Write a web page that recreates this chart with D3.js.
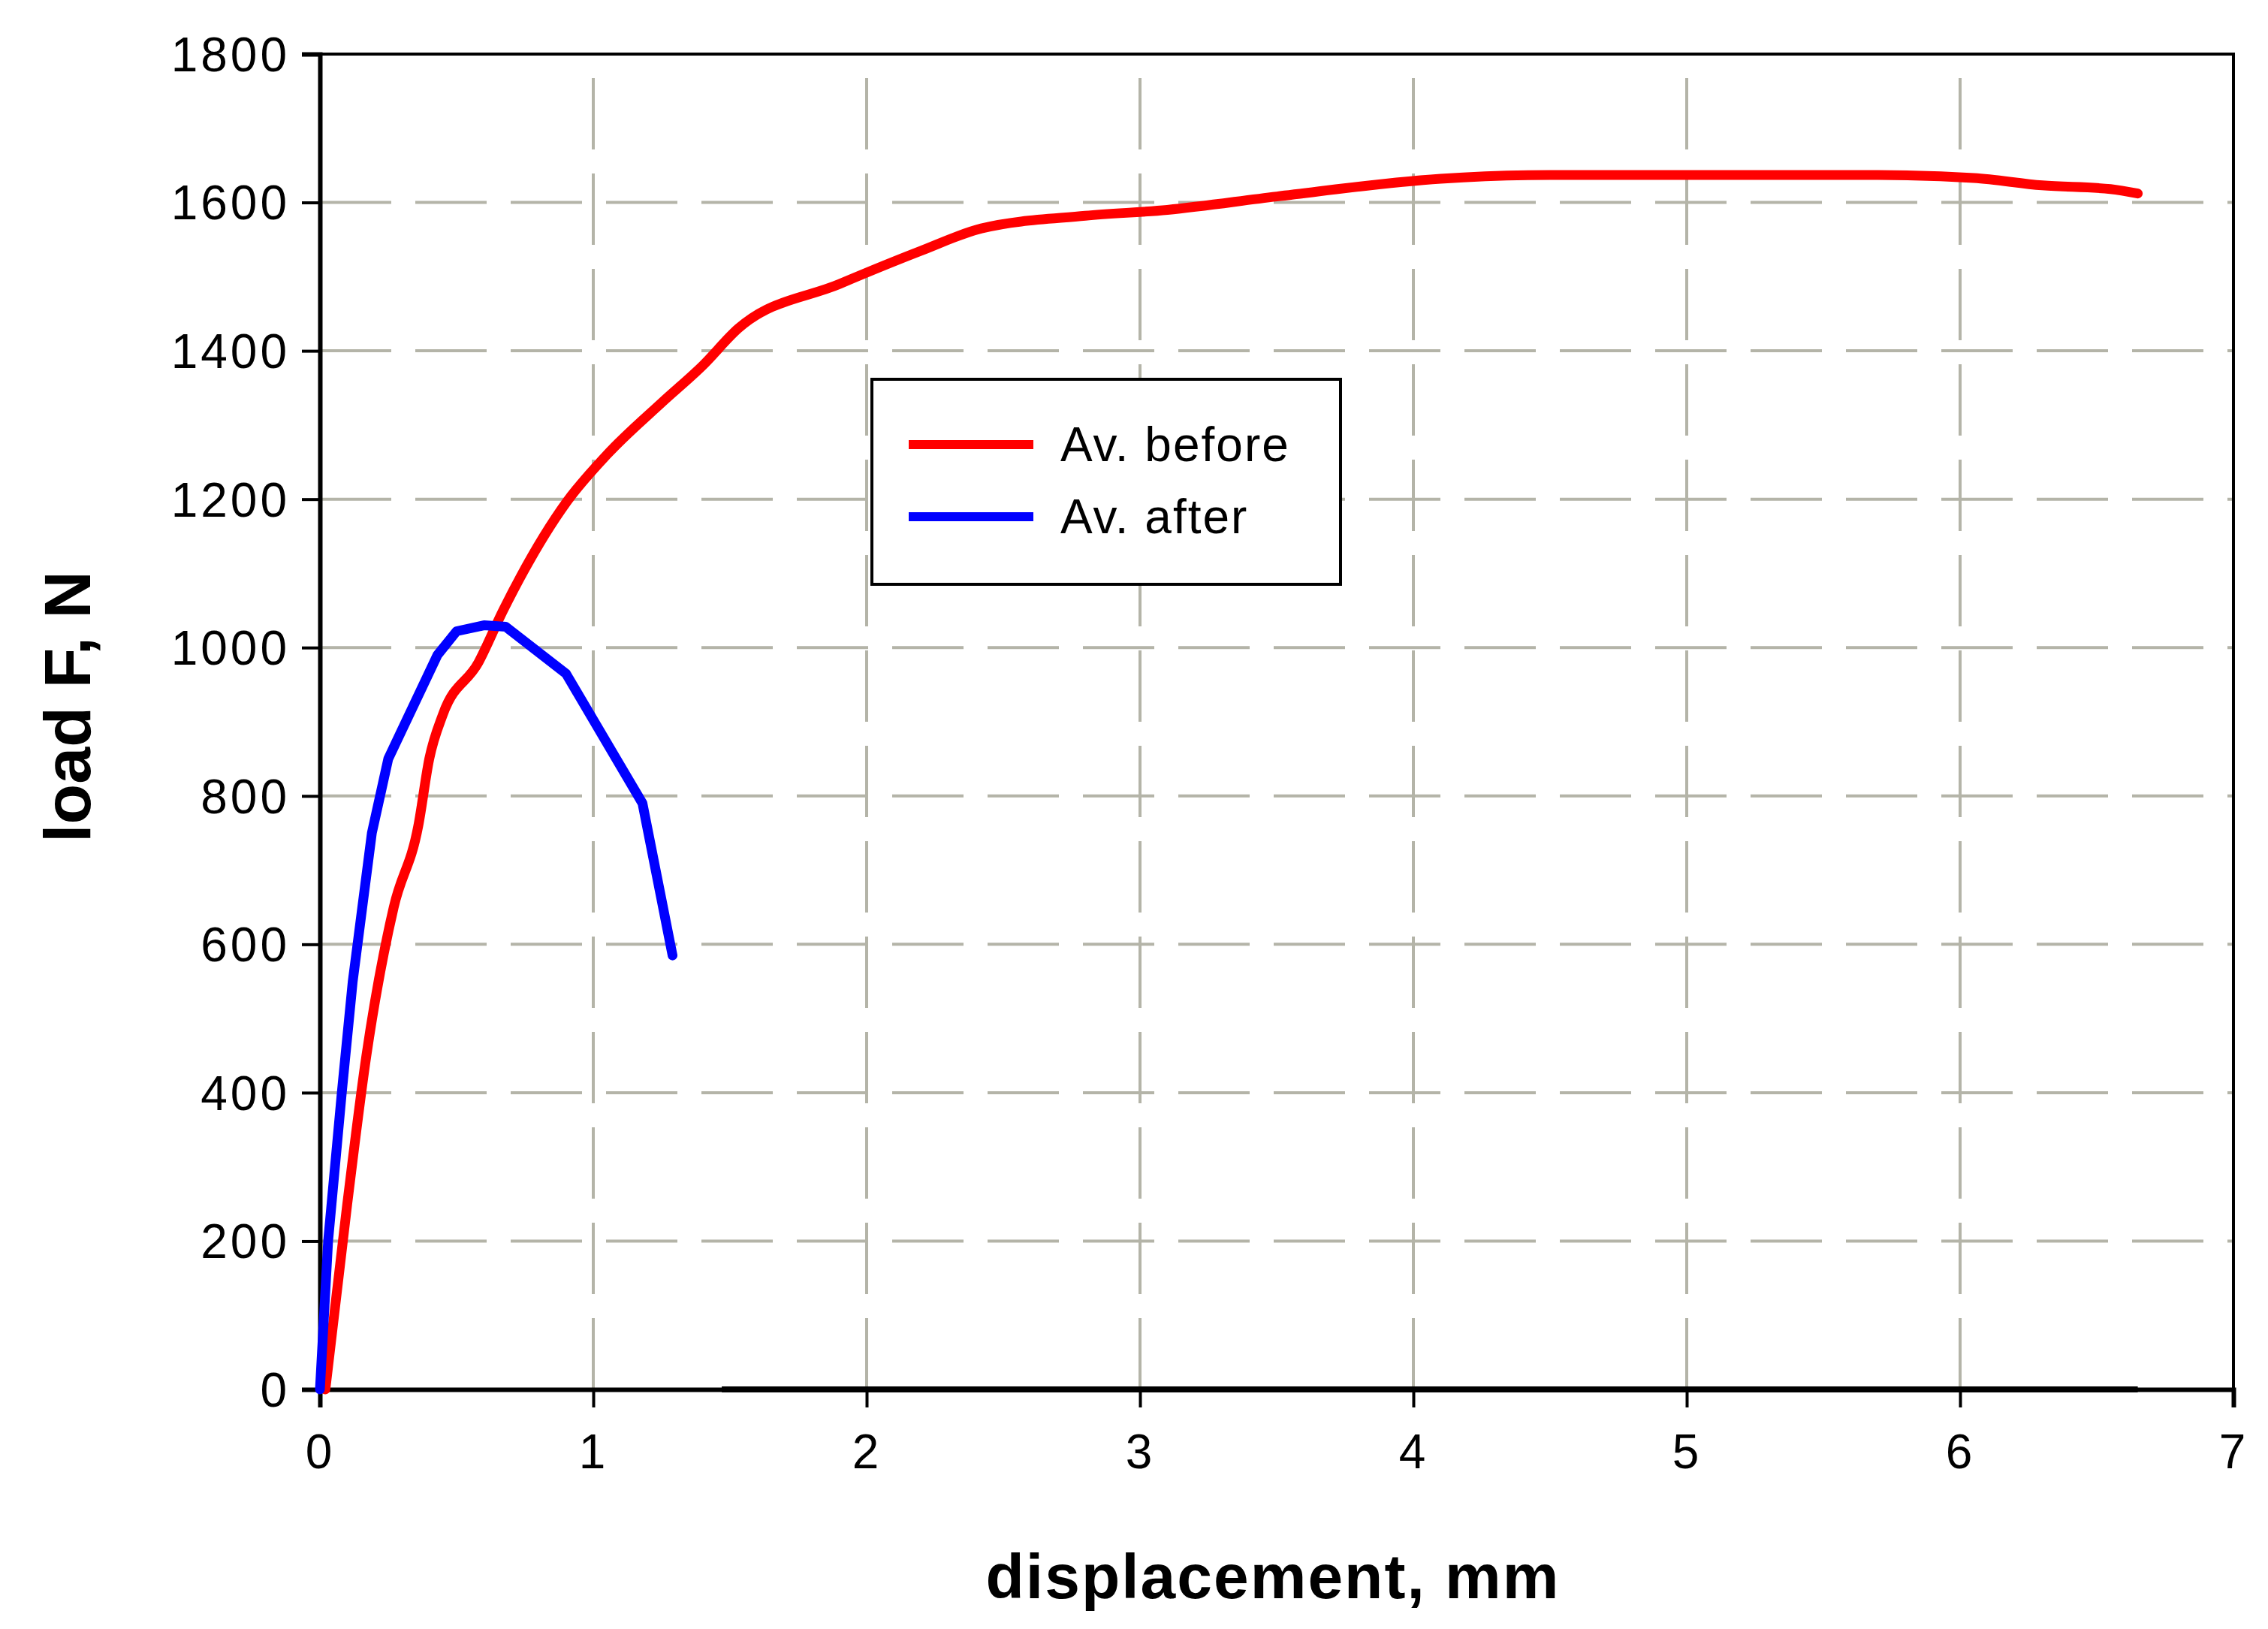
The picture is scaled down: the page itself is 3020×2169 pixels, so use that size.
<!DOCTYPE html>
<html><head><meta charset="utf-8">
<script src="https://cdn.jsdelivr.net/npm/d3@7"></script>
<style>body{margin:0;background:#fff}</style>
</head><body>
<svg id="chart" width="3020" height="2169"></svg>
<script>
// data
const beforeX=[0.02,0.1,0.17,0.27,0.36,0.4,0.45,0.58,0.67,0.9,1.05,1.25,1.4,1.53,1.9,2.2,2.42,2.8,3.1,3.5,4.1,4.5,5,5.7,6.05,6.3,6.55,6.65];
const beforeY=[0,250,450,650,760,850,910,980,1050,1195,1260,1330,1380,1430,1490,1535,1565,1582,1590,1608,1632,1637,1637,1637,1633,1623,1618,1612];
const afterX=[0,0.03,0.08,0.12,0.19,0.25,0.43,0.5,0.6,0.68,0.9,1.18,1.29];
const afterY=[0,200,400,550,750,850,990,1022,1030,1028,965,790,585];
const xTicks=[0,1,2,3,4,5,6,7];
const yTicks=[0,200,400,600,800,1000,1200,1400,1600,1800];

const svg=d3.select("#chart");
const L=426,R=2974,T=72,B=1850;
const x=d3.scaleLinear().domain([0,7]).range([L,R]);
const y=d3.scaleLinear().domain([0,1800]).range([B,T]);

// grid
svg.append("g").selectAll("line").data(yTicks.slice(1,-1)).join("line")
  .attr("x1",L).attr("x2",R).attr("y1",d=>y(d)).attr("y2",d=>y(d))
  .attr("stroke","#b4b4a8").attr("stroke-width",4).attr("stroke-dasharray","95,32");
svg.append("g").selectAll("line").data(xTicks.slice(1,-1)).join("line")
  .attr("y1",B).attr("y2",T).attr("x1",d=>x(d)).attr("x2",d=>x(d))
  .attr("stroke","#b4b4a8").attr("stroke-width",4).attr("stroke-dasharray","95,32");

// frame
svg.append("rect").attr("x",L).attr("y",T).attr("width",R-L).attr("height",B-T)
  .attr("fill","none").attr("stroke","#000").attr("stroke-width",4);

const xa=svg.append("g").attr("transform","translate(0,"+B+")")
  .call(d3.axisBottom(x).tickValues(xTicks).tickSize(24).tickPadding(36).tickFormat(d3.format("d")));
const ya=svg.append("g").attr("transform","translate("+L+",0)")
  .call(d3.axisLeft(y).tickValues(yTicks).tickSize(24).tickPadding(16).tickFormat(d3.format("d")));
[xa,ya].forEach(a=>{
  a.select(".domain").attr("stroke-width",6);
  a.selectAll(".tick line").attr("stroke-width",4);
  a.selectAll("text").attr("font-family","Liberation Sans, Arial").attr("font-size",64)
    .attr("letter-spacing",4).attr("fill","#000");
});
ya.selectAll("text").attr("dy","0.35em");

// thick baseline segment
svg.append("line").attr("x1",x(1.47)).attr("x2",x(6.65)).attr("y1",B).attr("y2",B)
  .attr("stroke","#000").attr("stroke-width",8);

const line=d3.line().curve(d3.curveMonotoneX).x(d=>x(d[0])).y(d=>y(d[1]));
svg.append("path").datum(d3.zip(beforeX,beforeY)).attr("d",line)
  .attr("fill","none").attr("stroke","#ff0000").attr("stroke-width",13).attr("stroke-linejoin","round").attr("stroke-linecap","round");
svg.append("path").datum(d3.zip(afterX,afterY)).attr("d",d3.line().x(d=>x(d[0])).y(d=>y(d[1])))
  .attr("fill","none").attr("stroke","#0000ff").attr("stroke-width",13).attr("stroke-linejoin","round").attr("stroke-linecap","round");

// legend
const lg=svg.append("g");
lg.append("rect").attr("x",1161).attr("y",505).attr("width",624).attr("height",273)
  .attr("fill","#fff").attr("stroke","#000").attr("stroke-width",4);
[["Av. before","#ff0000"],["Av. after","#0000ff"]].forEach((d,i)=>{
  const yy=592+i*96;
  lg.append("line").attr("x1",1210).attr("x2",1376).attr("y1",yy).attr("y2",yy)
    .attr("stroke",d[1]).attr("stroke-width",12);
  lg.append("text").attr("x",1412).attr("y",yy).attr("dy","0.35em").text(d[0])
    .attr("font-family","Liberation Sans, Arial").attr("font-size",64).attr("letter-spacing",2);
});

// axis titles
svg.append("text").attr("x",(L+R)/2-5).attr("y",2128).attr("text-anchor","middle")
  .attr("font-family","Liberation Sans, Arial").attr("font-weight","bold").attr("font-size",84)
  .attr("letter-spacing",2).text("displacement, mm");
svg.append("text").attr("transform","translate(120,"+((T+B)/2-20)+") rotate(-90)").attr("text-anchor","middle")
  .attr("font-family","Liberation Sans Narrow, Liberation Sans").attr("font-weight","bold").attr("font-size",88)
  .text("load F, N");
</script>
</body></html>
